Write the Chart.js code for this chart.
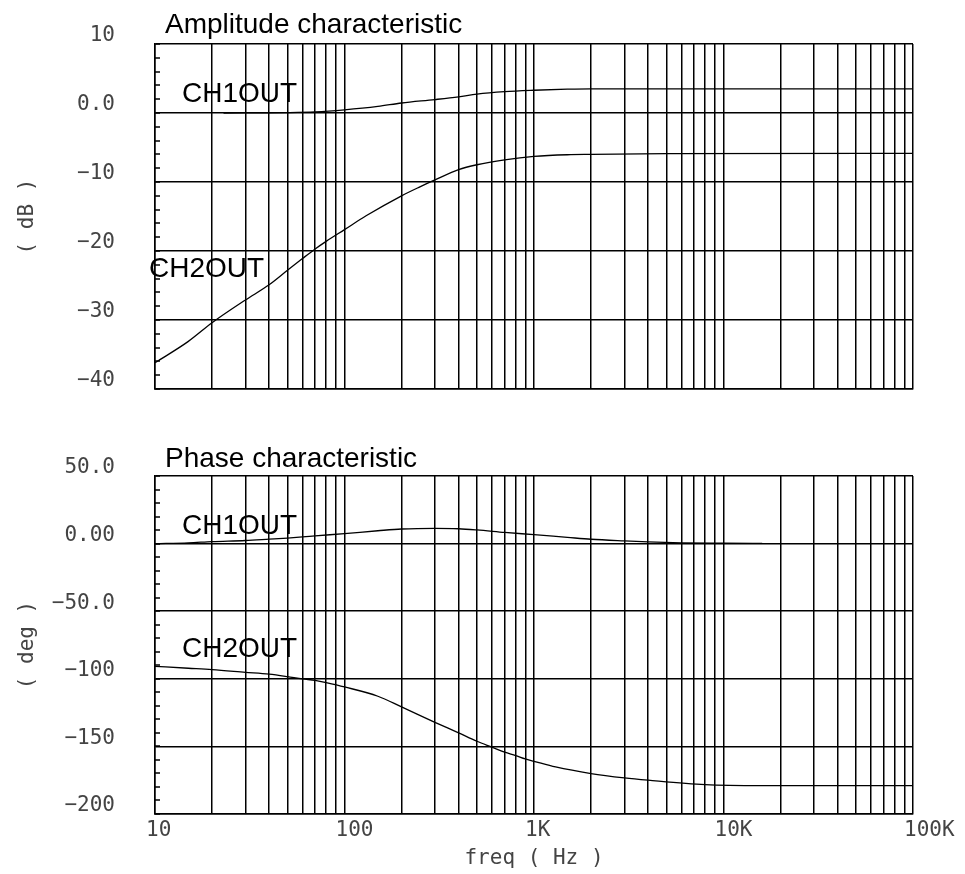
<!DOCTYPE html>
<html>
<head>
<meta charset="utf-8">
<script src="https://cdn.jsdelivr.net/npm/chart.js@4.4.1/dist/chart.umd.min.js"></script>
<style>
  body { margin: 0; background: #fff; }
  #wrap { position: relative; width: 965px; height: 874px; }
  canvas { position: absolute; left: 0; }
</style>
</head>
<body>
<div id="wrap">
  <canvas id="ampChart" width="965" height="420" style="top:0"></canvas>
  <canvas id="phaseChart" width="965" height="454" style="top:420px"></canvas>
</div>
<script>
// frequency axis (Hz)
const xTickValues = [10, 100, 1000, 10000, 100000];
const xTickLabels = ['10', '100', '1K', '10K', '100K'];

// amplitude (dB)
const ampTickValues = [10, 0, -10, -20, -30, -40];
const ampTickLabels = ['10', '0.0', '\u221210', '\u221220', '\u221230', '\u221240'];
const ampFreqCh1 = [23, 50, 70, 100, 150, 200, 300, 400, 500, 700, 1000, 1500, 2000, 5000, 100000];
const ampCh1 = [0, 0.05, 0.15, 0.45, 0.95, 1.45, 1.95, 2.35, 2.75, 3.1, 3.3, 3.45, 3.5, 3.5, 3.5];
const ampFreqCh2 = [10, 15, 20, 30, 40, 50, 60, 70, 80, 100, 130, 200, 250, 300, 400, 500, 700, 1000, 1500, 2000, 5000, 100000];
const ampCh2 = [-36.2, -33.1, -30.4, -27.1, -24.9, -22.8, -21.1, -19.7, -18.6, -16.9, -14.9, -12.0, -10.7, -9.7, -8.2, -7.5, -6.8, -6.3, -6.05, -6.0, -5.9, -5.85];

// phase (deg)
const phaseTickValues = [50, 0, -50, -100, -150, -200];
const phaseTickLabels = ['50.0', '0.00', '\u221250.0', '\u2212100', '\u2212150', '\u2212200'];
const phaseFreqCh1 = [10, 15, 20, 30, 40, 50, 60, 70, 100, 150, 200, 300, 400, 500, 700, 1000, 1500, 2000, 3000, 4000, 6000, 10000, 16000];
const phaseCh1 = [0, 0.6, 1.5, 2.3, 3.3, 4.1, 4.9, 5.7, 7.4, 9.5, 10.8, 11.3, 11.0, 10.1, 8.3, 6.6, 4.6, 3.2, 2.0, 1.3, 0.6, 0.3, 0.1];
const phaseFreqCh2 = [10, 15, 20, 30, 40, 50, 60, 70, 80, 100, 150, 200, 300, 400, 500, 600, 700, 800, 900, 1000, 1300, 2000, 3000, 4000, 8000, 16000, 100000];
const phaseCh2 = [-90.8, -92.2, -93.2, -95.2, -96.6, -98.4, -100.1, -101.1, -102.8, -106.0, -112.9, -120.8, -132.2, -140.0, -146.2, -150.6, -154.3, -156.8, -159.3, -161.0, -165.2, -170.1, -173.3, -175.0, -178.3, -179.0, -179.0];

// log grid: 1..9 in every decade
const gridFreqs = [];
for (let d = 10; d < 100000; d *= 10) {
  for (let m = 1; m < 10; m++) gridFreqs.push(d * m);
}
gridFreqs.push(100000);

const monoFont = { family: '"DejaVu Sans Mono", "Liberation Mono", monospace', size: 21 };
const labelColor = '#444';

// small inner ticks on the left edge + text labels
const annotate = {
  id: 'annotate',
  afterDraw(chart, args, opts) {
    const { ctx, chartArea: a, scales: { y } } = chart;
    ctx.save();
    ctx.strokeStyle = '#000';
    ctx.lineWidth = 1.5;
    for (let v = y.min; v <= y.max; v += opts.minorStep) {
      const py = Math.round(y.getPixelForValue(v));
      ctx.beginPath();
      ctx.moveTo(a.left, py);
      ctx.lineTo(a.left + 5, py);
      ctx.stroke();
    }
    ctx.fillStyle = '#000';
    ctx.font = '28px "Liberation Sans", Arial, sans-serif';
    ctx.textBaseline = 'alphabetic';
    opts.texts.forEach(t => ctx.fillText(t.text, a.left + t.dx, a.top + t.dy));
    ctx.restore();
  }
};

const toPoints = (xs, ys) => xs.map((x, i) => ({ x: x, y: ys[i] }));

function lineSet(xs, ys) {
  return {
    data: toPoints(xs, ys),
    borderColor: '#000',
    borderWidth: 1.3,
    pointRadius: 0,
    cubicInterpolationMode: 'monotone',
    fill: false
  };
}

function makeChart(id, opts) {
  return new Chart(document.getElementById(id).getContext('2d'), {
    type: 'line',
    data: { datasets: opts.datasets },
    options: {
      responsive: false,
      animation: false,
      layout: { padding: { top: opts.padTop, right: 52, left: 0, bottom: 0 } },
      plugins: {
        legend: { display: false },
        tooltip: { enabled: false },
        annotate: { minorStep: opts.minorStep, texts: opts.texts }
      },
      scales: {
        x: {
          type: 'logarithmic',
          min: 10,
          max: 100000,
          afterBuildTicks: s => { s.ticks = gridFreqs.map(v => ({ value: v })); },
          afterFit: s => { s.height = opts.xHeight; s.paddingLeft = 0; s.paddingRight = 0; },
          grid: { color: '#000', lineWidth: 1.5, drawTicks: false },
          border: { color: '#000', width: 1.5 },
          ticks: {
            display: opts.showX,
            autoSkip: false,
            maxRotation: 0,
            align: 'start',
            labelOffset: -9,
            padding: 4,
            color: labelColor,
            font: monoFont,
            callback: v => {
              const i = xTickValues.indexOf(v);
              return i >= 0 ? xTickLabels[i] : '';
            }
          },
          title: {
            display: opts.showX,
            text: 'freq ( Hz )',
            color: labelColor,
            font: monoFont,
            padding: { top: 0, bottom: 3 }
          }
        },
        y: {
          min: opts.yMin,
          max: opts.yMax,
          afterFit: s => { s.width = 155; s.paddingTop = 0; s.paddingBottom = 0; },
          grid: { color: '#000', lineWidth: 1.5, drawTicks: false },
          border: { color: '#000', width: 1.5 },
          ticks: {
            stepSize: opts.yStep,
            padding: 40,
            labelOffset: -8,
            color: labelColor,
            font: monoFont,
            callback: v => {
              const i = opts.yTickValues.indexOf(v);
              return i >= 0 ? opts.yTickLabels[i] : '';
            }
          },
          title: {
            display: true,
            text: opts.yTitle,
            color: labelColor,
            font: monoFont,
            padding: { top: 15, bottom: 0 }
          }
        }
      }
    },
    plugins: [annotate]
  });
}

makeChart('ampChart', {
  datasets: [lineSet(ampFreqCh1, ampCh1), lineSet(ampFreqCh2, ampCh2)],
  padTop: 44,
  xHeight: 31,
  showX: false,
  yMin: -40, yMax: 10, yStep: 10, minorStep: 2,
  yTickValues: ampTickValues, yTickLabels: ampTickLabels,
  yTitle: '( dB )',
  texts: [
    { text: 'Amplitude characteristic', dx: 10, dy: -11 },
    { text: 'CH1OUT', dx: 27, dy: 58 },
    { text: 'CH2OUT', dx: -6, dy: 233 }
  ]
});

makeChart('phaseChart', {
  datasets: [lineSet(phaseFreqCh1, phaseCh1), lineSet(phaseFreqCh2, phaseCh2)],
  padTop: 56,
  xHeight: 60,
  showX: true,
  yMin: -200, yMax: 50, yStep: 50, minorStep: 10,
  yTickValues: phaseTickValues, yTickLabels: phaseTickLabels,
  yTitle: '( deg )',
  texts: [
    { text: 'Phase characteristic', dx: 10, dy: -9 },
    { text: 'CH1OUT', dx: 27, dy: 58 },
    { text: 'CH2OUT', dx: 27, dy: 181 }
  ]
});
</script>
</body>
</html>
